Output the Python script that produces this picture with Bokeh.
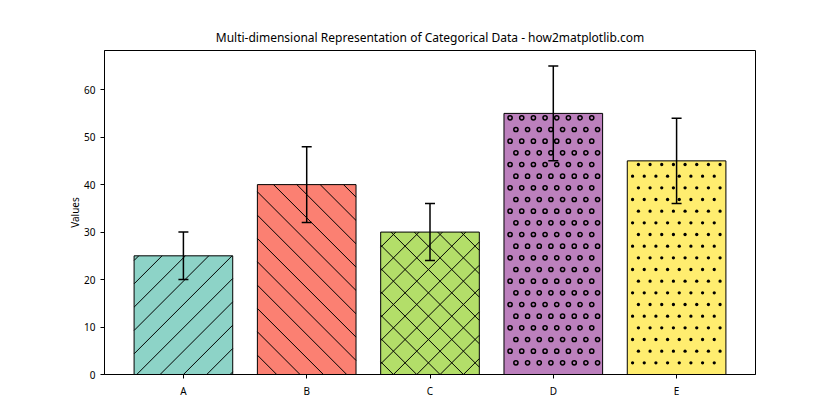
import math
from bokeh.plotting import figure
from bokeh.models import ColumnDataSource, Range1d, FixedTicker, Whisker, TeeHead
from bokeh.embed import file_html
from bokeh.resources import INLINE

categories = ["A", "B", "C", "D", "E"]
values = [25, 40, 30, 55, 45]
errors = [5, 8, 6, 10, 9]
colors = ["#8dd3c7", "#fb8072", "#b3de69", "#bc80bd", "#ffed6f"]
hatches = ["/", "\\", "x", "o", "."]

BAR_W = 0.8
X_LO, X_HI = -0.64, 4.64
Y_LO, Y_HI = 0, 68.25
FW, FH = 651, 324
SX = FW / (X_HI - X_LO)   # px per x unit
SY = FH / (Y_HI - Y_LO)   # px per y unit
LINE_GAP = 70 * 2 / 6     # matplotlib hatch spacing (px)
DOT_GAP = 70 / 6

xs = list(range(len(categories)))


def diag_segments(x0, x1, y0, y1, sign):
    """Hatch segments in pixel space, returned in data units."""
    X0, X1, Y0, Y1 = x0 * SX, x1 * SX, y0 * SY, y1 * SY
    segs = []
    if sign > 0:  # Y = X + c
        k0 = math.floor((Y0 - X1) / LINE_GAP)
        k1 = math.ceil((Y1 - X0) / LINE_GAP)
        for k in range(k0, k1 + 1):
            c = k * LINE_GAP
            a, b = max(X0, Y0 - c), min(X1, Y1 - c)
            if b - a > 0.5:
                segs.append((a / SX, (a + c) / SY, b / SX, (b + c) / SY))
    else:  # Y = -X + c
        k0 = math.floor((X0 + Y0) / LINE_GAP)
        k1 = math.ceil((X1 + Y1) / LINE_GAP)
        for k in range(k0, k1 + 1):
            c = k * LINE_GAP
            a, b = max(X0, c - Y1), min(X1, c - Y0)
            if b - a > 0.5:
                segs.append((a / SX, (c - a) / SY, b / SX, (c - b) / SY))
    return segs


def lattice(x0, x1, y0, y1, inset):
    X0, X1, Y0, Y1 = x0 * SX, x1 * SX, y0 * SY, y1 * SY
    pts = []
    j0, j1 = math.floor(Y0 / DOT_GAP), math.ceil(Y1 / DOT_GAP)
    for j in range(j0, j1 + 1):
        Y = j * DOT_GAP
        if Y < Y0 + inset or Y > Y1 - inset:
            continue
        off = (j % 2) * DOT_GAP / 2
        k0, k1 = math.floor((X0 - off) / DOT_GAP), math.ceil((X1 - off) / DOT_GAP)
        for k in range(k0, k1 + 1):
            X = k * DOT_GAP + off
            if X0 + inset <= X <= X1 - inset:
                pts.append((X / SX, Y / SY))
    return pts


seg = dict(x0=[], y0=[], x1=[], y1=[])
rings = dict(x=[], y=[])
dots = dict(x=[], y=[])
for xi, v, h in zip(xs, values, hatches):
    bx0, bx1 = xi - BAR_W / 2, xi + BAR_W / 2
    s = []
    if h in ("/", "x"):
        s += diag_segments(bx0, bx1, 0, v, +1)
    if h in ("\\", "x"):
        s += diag_segments(bx0, bx1, 0, v, -1)
    for a, b, c, d in s:
        seg["x0"].append(a); seg["y0"].append(b); seg["x1"].append(c); seg["y1"].append(d)
    if h == "o":
        for px, py in lattice(bx0, bx1, 0, v, 2.5):
            rings["x"].append(px); rings["y"].append(py)
    if h == ".":
        for px, py in lattice(bx0, bx1, 0, v, 1.0):
            dots["x"].append(px); dots["y"].append(py)

src = ColumnDataSource(dict(
    x=xs, top=values, color=colors,
    upper=[v + e for v, e in zip(values, errors)],
    lower=[v - e for v, e in zip(values, errors)],
))

p = figure(width=832, height=412, output_backend="svg", toolbar_location=None,
           x_range=Range1d(X_LO, X_HI), y_range=Range1d(Y_LO, Y_HI),
           min_border_left=104, min_border_right=77, min_border_top=50, min_border_bottom=38,
           title="Multi-dimensional Representation of Categorical Data - how2matplotlib.com")
p.frame_width = FW
p.frame_height = FH

p.vbar(x="x", top="top", bottom=0, width=BAR_W, source=src, fill_color="color", line_color=None)
p.segment(x0="x0", y0="y0", x1="x1", y1="y1", source=ColumnDataSource(seg),
          line_color="black", line_width=1)
p.scatter(x="x", y="y", source=ColumnDataSource(rings), marker="circle", size=4.2,
          fill_color=None, line_color="black", line_width=1.5)
p.scatter(x="x", y="y", source=ColumnDataSource(dots), marker="circle", size=3.3,
          fill_color="black", line_color=None)
p.vbar(x="x", top="top", bottom=0, width=BAR_W, source=src, fill_color=None,
       line_color="black", line_width=1)

w = Whisker(base="x", upper="upper", lower="lower", source=src, line_color="black", line_width=1.5,
            upper_head=TeeHead(size=10, line_color="black", line_width=1.5),
            lower_head=TeeHead(size=10, line_color="black", line_width=1.5))
w.level = "overlay"
p.add_layout(w)

p.title.align = "center"
p.title.text_font = "Noto Sans"
p.title.text_font_size = "12px"
p.title.text_font_style = "normal"
p.title.text_color = "black"

p.xgrid.visible = False
p.ygrid.visible = False
p.outline_line_color = "black"
p.outline_line_width = 1

p.xaxis.ticker = FixedTicker(ticks=xs)
p.xaxis.major_label_overrides = {i: c for i, c in enumerate(categories)}
p.yaxis.ticker = FixedTicker(ticks=[0, 10, 20, 30, 40, 50, 60])
p.yaxis.axis_label = "Values"
for ax in (p.xaxis, p.yaxis):
    ax.minor_tick_line_color = None
    ax.major_tick_out = 4
    ax.major_tick_in = 0
    ax.major_label_text_font = "Noto Sans"
    ax.major_label_text_font_size = "10px"
    ax.major_label_text_color = "black"
    ax.axis_line_color = "black"
    ax.major_tick_line_color = "black"
    ax.axis_label_text_font = "Noto Sans"
    ax.axis_label_text_font_size = "10px"
    ax.axis_label_text_font_style = "normal"
    ax.axis_label_text_color = "black"
p.yaxis.axis_label_standoff = -1

open("out.html", "w").write(file_html(p, INLINE))
